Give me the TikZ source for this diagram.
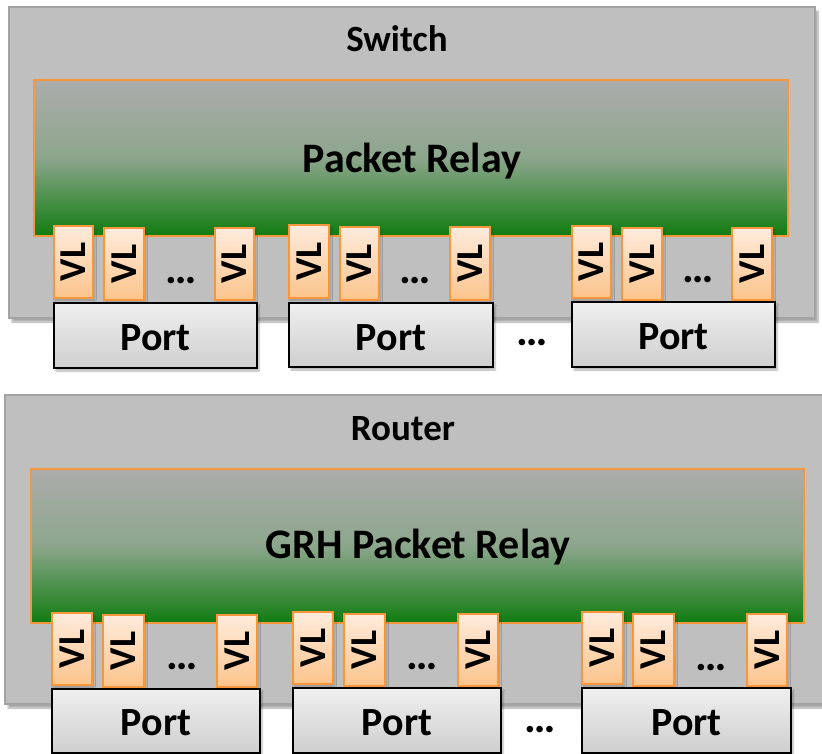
\documentclass[tikz,border=0pt]{standalone}
\usepackage{fontspec}
\setmainfont{Carlito}
\usetikzlibrary{shadows.blur}

\definecolor{framegray}{HTML}{BFBFBF}
\definecolor{frameedge}{HTML}{A3A3A3}
\definecolor{relaytop}{RGB}{172,172,172}
\definecolor{relaymid}{RGB}{140,166,140}
\definecolor{relaybot}{RGB}{16,124,16}
\definecolor{vledge}{HTML}{F7963A}
\definecolor{vltop}{HTML}{FEEBDC}
\definecolor{vlbot}{HTML}{FCC48C}
\definecolor{porttop}{HTML}{EFEFEF}
\definecolor{portbot}{HTML}{CFCFCF}

\tikzset{
  x=1pt, y=-1pt,
  block/.style={inner sep=0pt, outer sep=0pt},
  frame/.style={block, draw=frameedge, line width=1.5pt, fill=framegray,
    blur shadow={shadow xshift=3pt, shadow yshift=-4pt, shadow opacity=35, shadow blur steps=6}},
  relay/.style={block, draw=vledge, line width=1.5pt,
    top color=relaytop, bottom color=relaybot, middle color=relaymid},
  vlbox/.style={block, draw=vledge, line width=1.5pt, top color=vltop, bottom color=vlbot,
    font=\bfseries\fontsize{38}{38}\selectfont,
    blur shadow={shadow xshift=1.5pt, shadow yshift=-2pt, shadow opacity=25, shadow blur steps=4}},
  portbox/.style={block, draw=black, line width=1.5pt, top color=porttop, bottom color=portbot,
    blur shadow={shadow xshift=2pt, shadow yshift=-3pt, shadow opacity=30, shadow blur steps=5}},
  title/.style={anchor=base, inner sep=0pt, font=\bfseries\fontsize{37}{37}\selectfont},
  relaytitle/.style={anchor=base, inner sep=0pt, font=\bfseries\fontsize{42}{42}\selectfont},
  porttitle/.style={anchor=base, inner sep=0pt, font=\bfseries\fontsize{40}{40}\selectfont},
  dots/.style={inner sep=0pt, font=\bfseries\fontsize{44}{44}\selectfont},
}

% \blk{name}{style}{x1}{y1}{x2}{y2}{text}: a box given by its corners
\newcommand\blk[7]{%
  \node[#2, minimum width={(#5)-(#3)}, minimum height={(#6)-(#4)}]
    (#1) at ({((#3)+(#5))/2},{((#4)+(#6))/2}) {#7};}
\newcommand\vltext{\rotatebox{90}{VL}}

\begin{document}
\begin{tikzpicture}
\useasboundingbox (0,0) rectangle (822,754);

% ---------------- Switch ----------------
\blk{sw}{frame}{9}{7}{815}{318}{}
\node[title] (swlabel) at (397,52) {Switch};
\blk{swrelay}{relay}{34}{80}{788}{236}{}
\node[relaytitle] (swrelaylabel) at (412,173) {Packet Relay};

% port group 1
\blk{swa1}{vlbox}{54}{226}{93}{298}{\vltext}
\blk{swa2}{vlbox}{104}{228}{144}{300}{\vltext}
\node[dots] (swadots) at (181,281) {…};
\blk{swa3}{vlbox}{215}{228}{254}{300}{\vltext}
\blk{swaport}{portbox}{54}{303}{257}{368}{}
\node[porttitle] at (swaport.center |- 0,350) {Port};

% port group 2
\blk{swb1}{vlbox}{289}{225}{329}{298}{\vltext}
\blk{swb2}{vlbox}{340}{227}{379}{300}{\vltext}
\node[dots] (swbdots) at (415,281) {…};
\blk{swb3}{vlbox}{450}{227}{490}{300}{\vltext}
\blk{swbport}{portbox}{289}{303}{493}{367}{}
\node[porttitle] at (swbport.center |- 0,350) {Port};

\node[dots] (swportdots) at (532,343) {…};

% port group 3
\blk{swc1}{vlbox}{572}{226}{611}{298}{\vltext}
\blk{swc2}{vlbox}{622}{228}{662}{300}{\vltext}
\node[dots] (swcdots) at (698,280) {…};
\blk{swc3}{vlbox}{732}{228}{772}{300}{\vltext}
\blk{swcport}{portbox}{572}{302}{775}{367}{}
\node[porttitle] at (swcport.center |- 0,349) {Port};

% ---------------- Router ----------------
\blk{rt}{frame}{5}{395}{832}{704}{}
\node[title] (rtlabel) at (403,440) {Router};
\blk{rtrelay}{relay}{31}{469}{804}{623}{}
\node[relaytitle] (rtrelaylabel) at (418,558) {GRH Packet Relay};

% port group 1
\blk{rta1}{vlbox}{52}{613}{92}{685}{\vltext}
\blk{rta2}{vlbox}{103}{615}{144}{687}{\vltext}
\node[dots] (rtadots) at (182,667) {…};
\blk{rta3}{vlbox}{217}{615}{257}{687}{\vltext}
\blk{rtaport}{portbox}{52}{689}{260}{753}{}
\node[porttitle] at (rtaport.center |- 0,735) {Port};

% port group 2
\blk{rtb1}{vlbox}{293}{612}{333}{684}{\vltext}
\blk{rtb2}{vlbox}{344}{614}{385}{686}{\vltext}
\node[dots] (rtbdots) at (422,667) {…};
\blk{rtb3}{vlbox}{458}{614}{498}{686}{\vltext}
\blk{rtbport}{portbox}{293}{688}{501}{753}{}
\node[porttitle] at (rtbport.center |- 0,735) {Port};

\node[dots] (rtportdots) at (540,730) {…};

% port group 3
\blk{rtc1}{vlbox}{582}{612}{623}{684}{\vltext}
\blk{rtc2}{vlbox}{633}{614}{674}{686}{\vltext}
\node[dots] (rtcdots) at (711,668) {…};
\blk{rtc3}{vlbox}{747}{614}{787}{686}{\vltext}
\blk{rtcport}{portbox}{582}{688}{791}{753}{}
\node[porttitle] at (rtcport.center |- 0,735) {Port};
\end{tikzpicture}
\end{document}
